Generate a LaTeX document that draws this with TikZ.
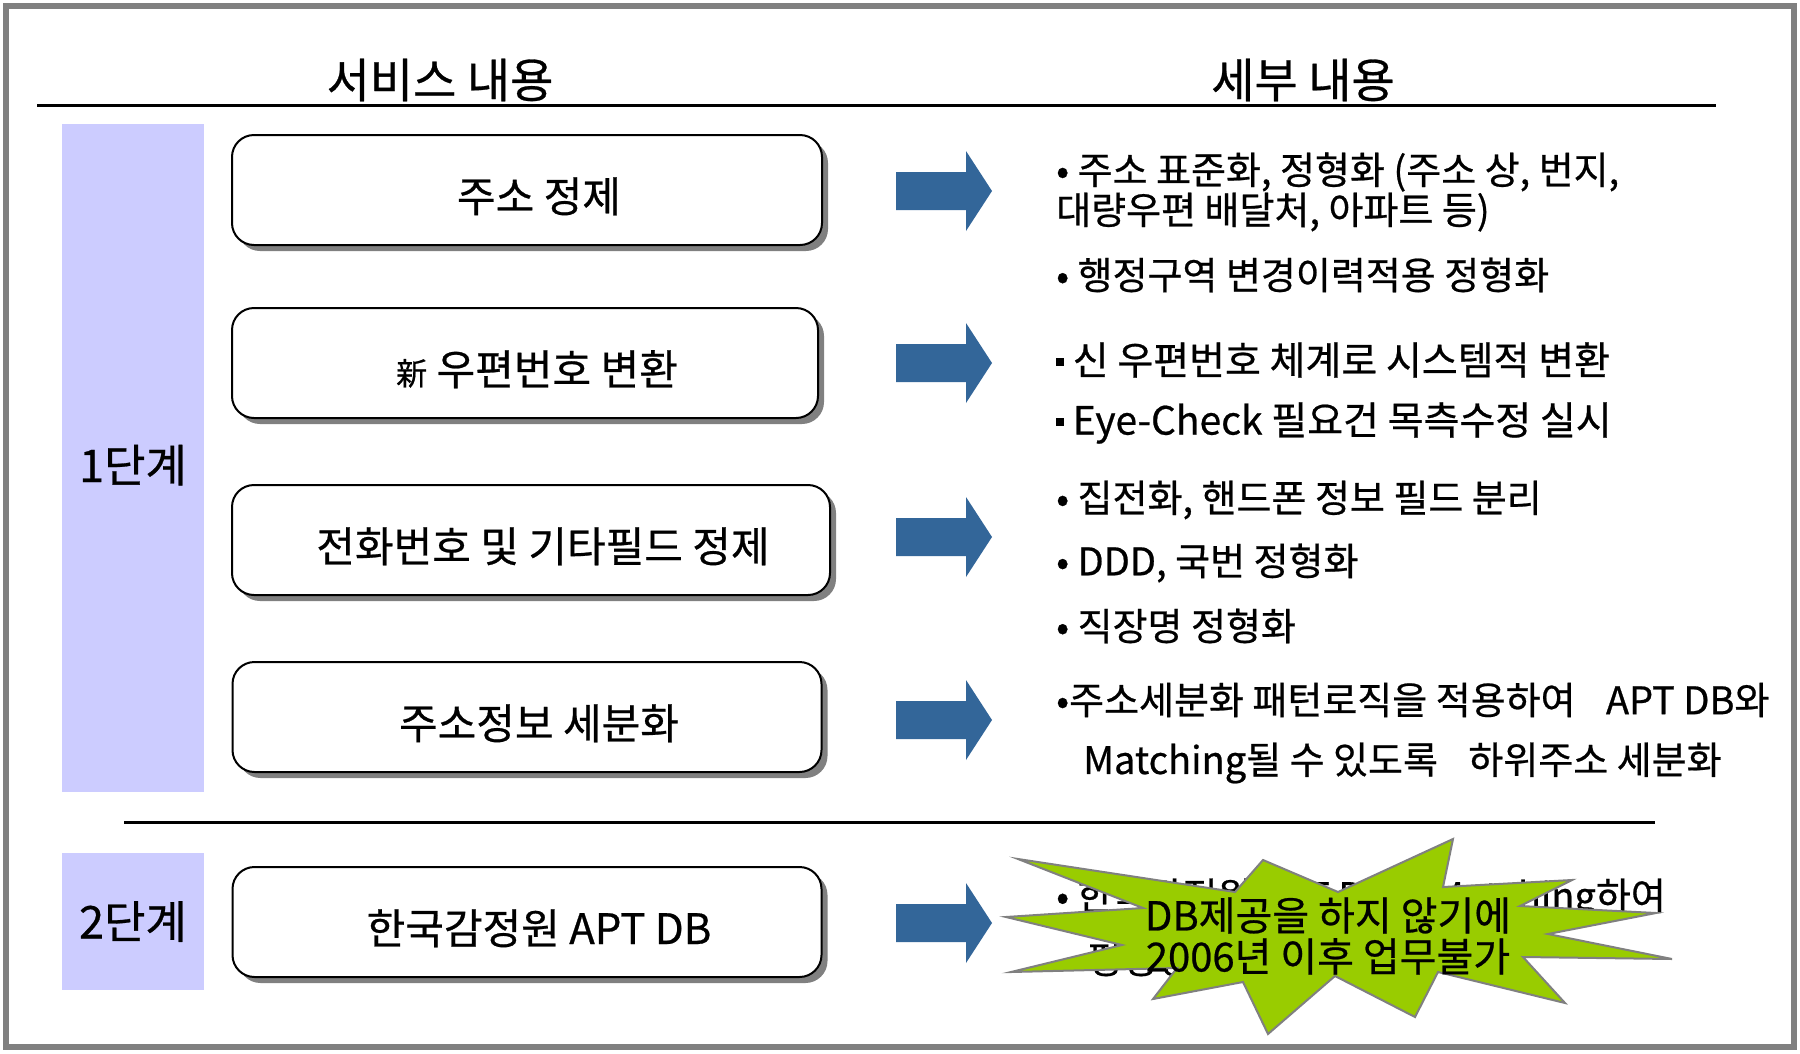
\documentclass[tikz,border=0pt]{standalone}
\usepackage{fontspec}
\setmainfont{Noto Sans CJK KR}[FakeBold=0.6]
\usetikzlibrary{shadows}
\definecolor{lav}{HTML}{CCCCFF}
\definecolor{arr}{HTML}{336699}
\definecolor{burst}{HTML}{99CC00}
\newcommand{\sqbul}{\raisebox{0.22em}{\rule{0.2em}{0.2em}}}
\begin{document}
\begin{tikzpicture}[x=1pt,y=-1pt,
  svcbox/.style={draw=black, line width=2pt, fill=white, rounded corners=22pt,
    minimum height=110pt, inner sep=0pt, font=\fontsize{42}{48}\selectfont,
    text height=48pt, text depth=4pt,
    drop shadow={shadow xshift=6pt, shadow yshift=-6pt, fill=black!50, opacity=1}},
  stage/.style={fill=lav, minimum width=142pt, inner sep=0pt, font=\fontsize{45}{50}\selectfont},
  hdr/.style={font=\fontsize{47}{52}\selectfont, inner sep=0pt},
  det/.style={anchor=west, inner sep=0pt, font=\fontsize{38}{40}\selectfont, align=left},
  blk/.style={fill=arr},
  sepline/.style={draw=black, line width=3pt}]
\useasboundingbox (0,0) rectangle (1800,1053);
\fill[white] (0,0) rectangle (1800,1053);
\draw[gray, line width=6pt] (6,6) rectangle (1794,1047);
% headers
\node[hdr] (h1) at (440,80) {서비스 내용};
\node[hdr] (h2) at (1303,80) {세부 내용};
\coordinate (hl1) at (37,105);
\coordinate (hl2) at (1716,105);
\draw[sepline] (hl1) -- (hl2);
\coordinate (sl1) at (124,822);
\coordinate (sl2) at (1655,822);
\draw[sepline] (sl1) -- (sl2);
% stage bars
\node[stage, minimum height=668pt, text height=52pt, text depth=4pt] (s1) at (133,458) {1단계};
\node[stage, minimum height=137pt] (s2) at (133,921.5) {2단계};
% service boxes
\node[svcbox, minimum width=590pt] (b1) at (527,190) {\hspace*{24pt}주소 정제};
\node[svcbox, minimum width=586pt] (b2) at (525,363) {\hspace*{24pt}{\fontsize{31}{34}\selectfont 新} 우편번호 변환};
\node[svcbox, minimum width=598pt] (b3) at (531,540) {\hspace*{24pt}전화번호 및 기타필드 정제};
\node[svcbox, minimum width=589pt] (b4) at (527,717) {\hspace*{24pt}주소정보 세분화};
\node[svcbox, minimum width=589pt] (b5) at (527,922) {\hspace*{24pt}한국감정원 APT DB};
% block arrows
\foreach \yy in {191,363,537,720,923}{
  \fill[blk] (896,\yy-19) -- (966,\yy-19) -- (966,\yy-40) -- (992,\yy)
     -- (966,\yy+40) -- (966,\yy+19) -- (896,\yy+19) -- cycle;
}
% detail texts
\node[det] (t1a) at (1056,192) {• 주소 표준화, 정형화 (주소 상, 번지,\\대량우편 배달처, 아파트 등)};
\node[det] (t1b) at (1056,275) {• 행정구역 변경이력적용 정형화};
\node[det, font=\fontsize{39}{40}\selectfont] (t2a) at (1056,360) {\sqbul\ 신 우편번호 체계로 시스템적 변환};
\node[det, font=\fontsize{39}{40}\selectfont] (t2b) at (1056,423) {\sqbul\ Eye-Check 필요건 목측수정 실시};
\node[det] (t3a) at (1056,500) {• 집전화, 핸드폰 정보 필드 분리};
\node[det] (t3b) at (1056,563) {• DDD, 국번 정형화};
\node[det] (t3c) at (1056,626) {• 직장명 정형화};
\node[det] (t4a) at (1056,700) {•주소세분화 패턴로직을 적용하여\hspace{0.8em}APT DB와};
\node[det] (t4b) at (1083,763) {Matching될 수 있도록\hspace{0.8em}하위주소 세분화};
\node[det] (t5a) at (1056,899) {• 한국감정원 APT DB와 Matching하여};
\node[det] (t5b) at (1087,959) {평형정보 제공};
% starburst
\filldraw[fill=burst, draw=gray, line width=2pt, line join=miter]
  (1018,859) -- (1235,892) -- (1263,860) -- (1338,892) -- (1453,839)
  -- (1443,887) -- (1572,880) -- (1520,906) -- (1656,913) -- (1548,934)
  -- (1672,959) -- (1523,957) -- (1565,1003) -- (1438,972) -- (1415,1017)
  -- (1335,976) -- (1268,1034) -- (1243,982) -- (1153,999) -- (1177,968)
  -- (1011,972) -- (1122,945) -- (1006,917) -- (1143,908) -- cycle;
\node[align=center, inner sep=0pt, font=\fontsize{40}{41}\selectfont] (bt) at (1328,936)
  {DB제공을 하지 않기에\\2006년 이후 업무불가};
\end{tikzpicture}
\end{document}
